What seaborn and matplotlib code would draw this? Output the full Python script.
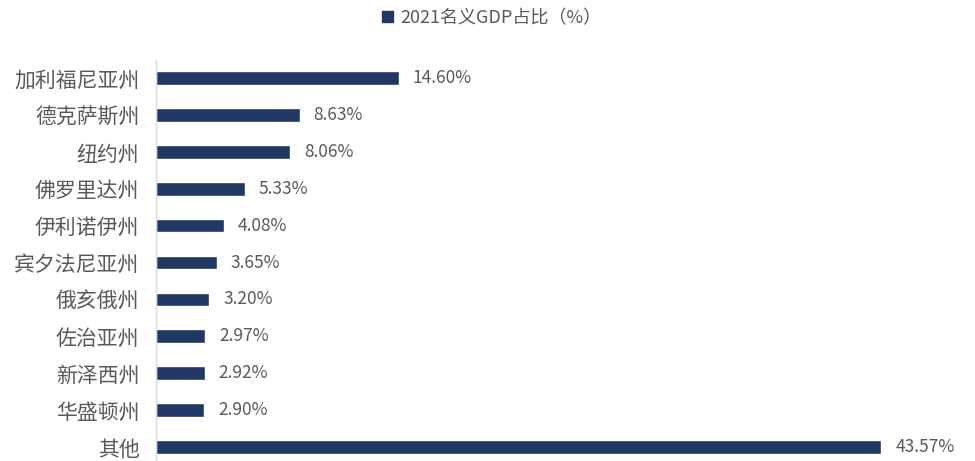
import matplotlib
matplotlib.use("Agg")
import matplotlib.pyplot as plt
import seaborn as sns
import pandas as pd
from matplotlib.patches import Patch

states = ["加利福尼亚州", "德克萨斯州", "纽约州", "佛罗里达州", "伊利诺伊州",
          "宾夕法尼亚州", "俄亥俄州", "佐治亚州", "新泽西州", "华盛顿州", "其他"]
shares = [14.60, 8.63, 8.06, 5.33, 4.08, 3.65, 3.20, 2.97, 2.92, 2.90, 43.57]
series_name = "2021名义GDP占比（%）"

sns.set_theme(style="white")
plt.rcParams['font.family'] = ['Noto Sans CJK SC', 'DejaVu Sans']

df = pd.DataFrame({"state": states, "share": shares})
color = "#1F3864"

fig = plt.figure(figsize=(9.75, 4.61), dpi=100)
ax = fig.add_axes([156/975, 0, 804/975, (461-60)/461])
sns.barplot(data=df, x="share", y="state", orient="h", color=color,
            width=0.37, ax=ax, saturation=1)

ax.set_xlim(0, 48.3)
ax.set_ylim(10.38, -0.49)
ax.set_xlabel("")
ax.set_ylabel("")
ax.set_xticks([])
for s in ["top", "right", "bottom"]:
    ax.spines[s].set_visible(False)
ax.spines["left"].set_color("#d9d9d9")
ax.spines["left"].set_linewidth(1)
ax.tick_params(axis="y", length=0, pad=12, labelsize=15, labelcolor="#595959")

for i, v in enumerate(shares):
    ax.annotate(f"{v:.2f}%", xy=(v, i), xytext=(10, 0), textcoords="offset points",
                va="center", ha="left", fontsize=12.5, color="#595959")

fig.legend(handles=[Patch(color=color, label=series_name)], loc="center",
           bbox_to_anchor=(492/975, 1 - 18/461), frameon=False, fontsize=13,
           handlelength=0.6, handleheight=0.6, handletextpad=0.4,
           labelcolor="#595959")

fig.savefig("out.png", dpi=100)
